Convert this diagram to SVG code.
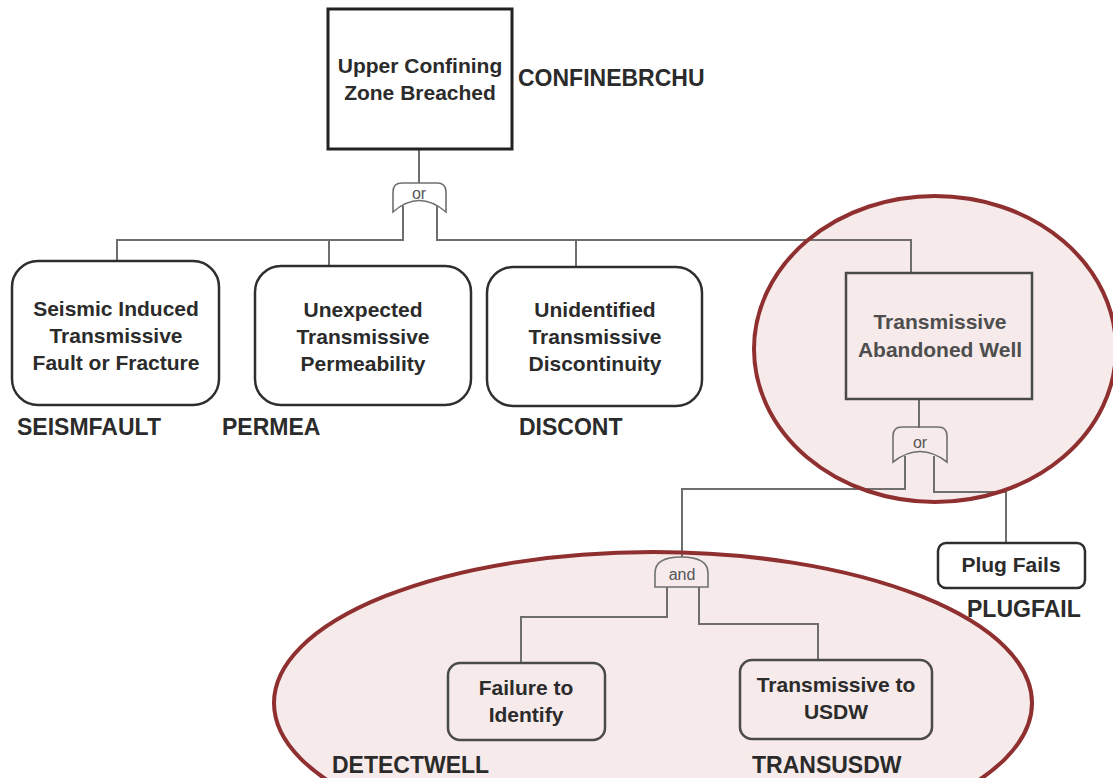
<svg xmlns="http://www.w3.org/2000/svg" width="1113" height="778" viewBox="0 0 1113 778">
<style>
.bg{fill:#ffffff}
.hl{fill:#f6eaea;stroke:none}
.hlo{fill:none;stroke:#8f2f2f;stroke-width:4}
.conn{fill:none;stroke:#6e6e6e;stroke-width:2}
.box{fill:#ffffff;stroke:#2e2e2e;stroke-width:2.5}
.boxh{fill:none;stroke:#4a4a4a;stroke-width:2.5}
.gate{fill:#ffffff;stroke:#707070;stroke-width:1.6}
.gateh{fill:none;stroke:#707070;stroke-width:1.6}
.t{font-family:"Liberation Sans",Arial,sans-serif;font-weight:bold;font-size:21px;fill:#2b2b2b;text-anchor:middle}
.th{fill:#4e4e4e}
.lbl{font-family:"Liberation Sans",Arial,sans-serif;font-weight:bold;font-size:23px;fill:#2b2b2b}
.g{font-family:"Liberation Sans",Arial,sans-serif;font-size:16px;fill:#555;text-anchor:middle}
</style>
<rect class="bg" x="0" y="0" width="1113" height="778"/>
<g id="highlights">
<ellipse class="hl" cx="935" cy="349" rx="181" ry="153"/>
<ellipse class="hl" cx="653" cy="703" rx="379" ry="151"/>
</g>
<g id="connectors">
<path class="conn" d="M419,149 V184"/>
<path class="conn" d="M403,206 V240 H117 V261"/>
<path class="conn" d="M329,240 V266"/>
<path class="conn" d="M437,206 V240 H911 V273"/>
<path class="conn" d="M576,240 V267"/>
<path class="conn" d="M919,399 V428"/>
<path class="conn" d="M905,456 V489 H682 V557"/>
<path class="conn" d="M934,456 V492 H1006 V543"/>
<path class="conn" d="M667,587 V617 H521 V663"/>
<path class="conn" d="M699,587 V624 H818 V660"/>
</g>
<g id="gate-or-top">
<path class="gate" d="M393,212 L393,192 Q393,183 402,183 L437,183 Q446,183 446,192 L446,212 Q419,189 393,212 Z"/>
<text class="g" x="419" y="199">or</text>
</g>
<g id="gate-or-well">
<path class="gateh" d="M893,462 L893,436 Q893,427 902,427 L938,427 Q947,427 947,436 L947,462 Q920,441 893,462 Z"/>
<text class="g" x="920" y="448">or</text>
</g>
<g id="gate-and">
<path class="gateh" d="M655,587 L655,573 Q655,557 681,557 Q708,557 708,573 L708,587 Z"/>
<text class="g" x="682" y="580">and</text>
</g>
<g id="node-confinebrchu">
<rect class="box" x="328" y="9" width="184" height="140" style="stroke-width:3;stroke:#222"/>
<text class="t" x="420" y="73">Upper Confining</text>
<text class="t" x="420" y="100">Zone Breached</text>
<text class="lbl" x="518" y="86">CONFINEBRCHU</text>
</g>
<g id="node-seismfault">
<rect class="box" x="12" y="261" width="207" height="144" rx="26"/>
<text class="t" x="116" y="316">Seismic Induced</text>
<text class="t" x="116" y="343">Transmissive</text>
<text class="t" x="116" y="370">Fault or Fracture</text>
<text class="lbl" x="17" y="435">SEISMFAULT</text>
</g>
<g id="node-permea">
<rect class="box" x="255" y="266" width="216" height="139" rx="26"/>
<text class="t" x="363" y="317">Unexpected</text>
<text class="t" x="363" y="344">Transmissive</text>
<text class="t" x="363" y="371">Permeability</text>
<text class="lbl" x="222" y="435">PERMEA</text>
</g>
<g id="node-discont">
<rect class="box" x="487" y="267" width="215" height="139" rx="26"/>
<text class="t" x="595" y="317">Unidentified</text>
<text class="t" x="595" y="344">Transmissive</text>
<text class="t" x="595" y="371">Discontinuity</text>
<text class="lbl" x="519" y="435">DISCONT</text>
</g>
<g id="node-abandoned-well">
<rect class="boxh" x="846" y="273" width="186" height="126"/>
<text class="t th" x="940" y="329">Transmissive</text>
<text class="t th" x="940" y="357">Abandoned Well</text>
</g>
<g id="node-plugfail">
<rect class="box" x="938" y="543" width="147" height="45" rx="8"/>
<text class="t" x="1011" y="572">Plug Fails</text>
<text class="lbl" x="967" y="617">PLUGFAIL</text>
</g>
<g id="node-detectwell">
<rect class="boxh" x="448" y="663" width="157" height="77" rx="12"/>
<text class="t" x="526" y="695">Failure to</text>
<text class="t" x="526" y="722">Identify</text>
<text class="lbl" x="332" y="773">DETECTWELL</text>
</g>
<g id="node-transusdw">
<rect class="boxh" x="740" y="660" width="192" height="79" rx="12"/>
<text class="t" x="836" y="692">Transmissive to</text>
<text class="t" x="836" y="719">USDW</text>
<text class="lbl" x="752" y="773">TRANSUSDW</text>
</g>
<g id="highlight-outlines">
<ellipse class="hlo" cx="935" cy="349" rx="181" ry="153"/>
<ellipse class="hlo" cx="653" cy="703" rx="379" ry="151"/>
</g>
</svg>
